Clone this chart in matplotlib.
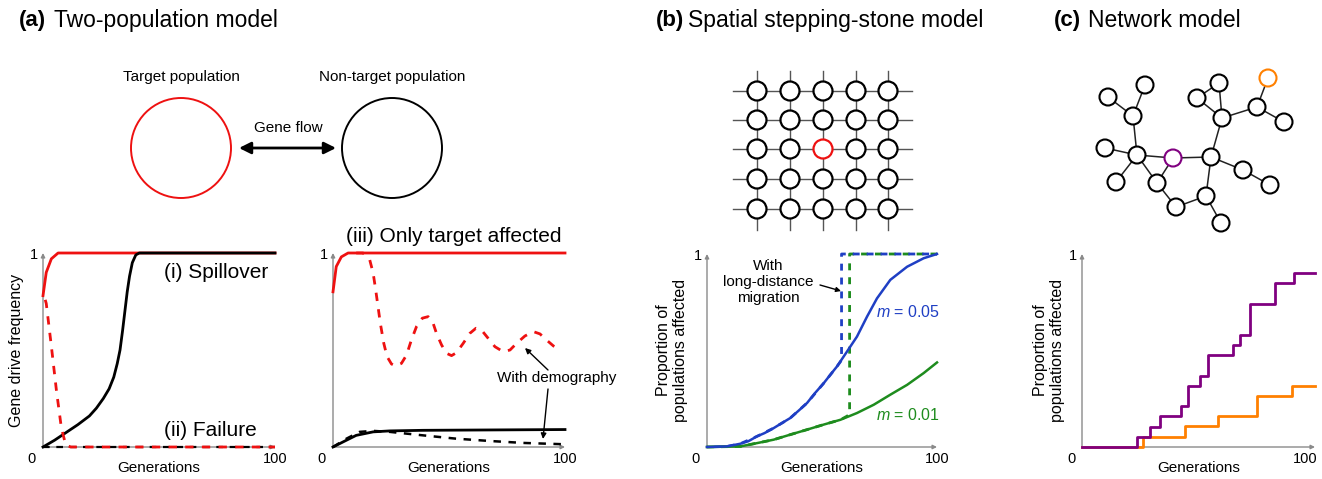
import numpy as np
import matplotlib
matplotlib.use('Agg')
import matplotlib.pyplot as plt
from matplotlib.patches import Circle

plt.rcParams['font.family'] = ['Liberation Sans', 'DejaVu Sans']
plt.rcParams['mathtext.fontset'] = 'custom'
plt.rcParams['mathtext.it'] = 'Liberation Sans:italic'
plt.rcParams['mathtext.rm'] = 'Liberation Sans'

W, H = 1322, 479

# ---- data ----
# (i) spillover / (ii) failure
spill_red_x = [0, 1.4, 3.6, 6.5, 100]
spill_red_y = [0.78, 0.9, 0.97, 1.0, 1.0]
spill_black_x = [0, 5, 10, 15, 20, 23, 26, 28.5, 30.5, 32, 33.2, 34.3, 35.3, 36.3, 37.3,
                 38.5, 40, 41.5, 100]
spill_black_y = [0, 0.035, 0.075, 0.115, 0.16, 0.2, 0.25, 0.3, 0.36, 0.43, 0.5, 0.6, 0.7,
                 0.8, 0.88, 0.95, 0.99, 1.0, 1.0]
fail_red_x = [0, 1.4, 3.6, 5.8, 7.9, 9.8, 12, 100]
fail_red_y = [0.8, 0.74, 0.52, 0.29, 0.1, 0.01, 0, 0]
fail_black_x = [0, 100]
fail_black_y = [0, 0]

# (iii) only target affected
only_red_x = [0, 1.4, 3.6, 6.5, 100]
only_red_y = [0.80, 0.93, 0.98, 1.0, 1.0]
demo_red_x = [10, 13, 15.8, 17.3, 18.4, 19.4, 20.4, 21.9, 23.3, 25.2, 27, 29.5, 31.7, 33.8,
              36, 38.5, 41, 42.9, 44.6, 46.8, 48.9, 51.1, 53.2, 56.1, 59, 61.6, 64, 66.9,
              69.8, 73.4, 76.3, 79.1, 82.7, 86.3, 89.2, 92, 95, 97.8]
demo_red_y = [1.0, 1.0, 0.966, 0.897, 0.81, 0.724, 0.638, 0.534, 0.466, 0.428, 0.417, 0.431,
              0.474, 0.552, 0.621, 0.664, 0.672, 0.647, 0.586, 0.526, 0.483, 0.471, 0.486,
              0.534, 0.586, 0.612, 0.603, 0.56, 0.517, 0.491, 0.5, 0.534, 0.572, 0.595,
              0.583, 0.552, 0.521, 0.503]
only_black_x = [0, 4.3, 10, 17.3, 24.5, 38.8, 100]
only_black_y = [0, 0.026, 0.06, 0.078, 0.083, 0.086, 0.09]
demo_black_x = [0, 5.8, 11.5, 17.3, 24.5, 38.8, 53, 67.6, 82, 100]
demo_black_y = [0, 0.043, 0.078, 0.083, 0.078, 0.06, 0.043, 0.031, 0.021, 0.014]

# (b) stepping-stone
m05_x = [0, 8.7, 14.5, 18, 21.7, 25, 29, 32, 36.2, 40, 43.5, 47, 50.7, 54, 56.5, 60.9,
         65.2, 69.6, 73.9, 79.7, 87, 94.2, 100]
m05_y = [0, 0.003, 0.017, 0.03, 0.055, 0.072, 0.098, 0.12, 0.15, 0.19, 0.228, 0.28, 0.33,
         0.38, 0.417, 0.495, 0.572, 0.676, 0.77, 0.866, 0.934, 0.978, 1.0]
m01_x = [0, 14.5, 21.7, 29, 36.2, 43.5, 50.7, 58, 65.2, 72.5, 79.7, 87, 94.2, 100]
m01_y = [0, 0.003, 0.02, 0.038, 0.064, 0.09, 0.116, 0.141, 0.176, 0.219, 0.271, 0.322, 0.383, 0.438]
ld05_x = [0, 8.7, 14.5, 21.7, 29, 36.2, 43.5, 50.7, 56.5, 58.5, 58.5, 100]
ld05_y = [0, 0.003, 0.017, 0.055, 0.098, 0.15, 0.228, 0.33, 0.417, 0.45, 1.0, 1.0]
ld01_x = [0, 14.5, 21.7, 29, 36.2, 43.5, 50.7, 58, 60.9, 62, 62, 100]
ld01_y = [0, 0.003, 0.02, 0.038, 0.064, 0.09, 0.116, 0.141, 0.16, 0.17, 1.0, 1.0]

# (c) network
purple_x = [0, 23.4, 29.1, 33.4, 42.7, 45.6, 50.6, 54.2, 64.9, 67.8, 72.1, 82.8, 91, 100]
purple_y = [0, 0.052, 0.104, 0.159, 0.213, 0.317, 0.369, 0.476, 0.528, 0.58, 0.74, 0.848, 0.9, 0.9]
orange_x = [0, 26.2, 44.1, 58.5, 74.9, 90, 100]
orange_y = [0, 0.052, 0.107, 0.161, 0.265, 0.317, 0.317]

# diagram layout (pixel coords)
grid_cols = [757, 790, 823, 856, 888]
grid_rows = [91, 120, 149, 179, 209]
net_nodes = [(1108, 97), (1145, 85), (1133, 116), (1105, 148), (1137, 155), (1116, 182),
             (1173, 158), (1157, 183), (1176, 207), (1206, 196), (1221, 223), (1211, 157),
             (1243, 170), (1270, 185), (1222, 118), (1197, 98), (1219, 83), (1257, 107),
             (1268, 78), (1284, 122)]
net_edges = [(0, 2), (1, 2), (2, 4), (3, 4), (5, 4), (4, 6), (4, 7), (6, 7), (7, 8), (8, 9),
             (9, 10), (9, 11), (6, 11), (11, 12), (12, 13), (11, 14), (14, 15), (14, 16),
             (15, 16), (14, 17), (17, 18), (17, 19)]

RED = '#ee1111'
BLUE = '#1f3fc4'
GREEN = '#1e8c1e'
PURPLE = '#800080'
ORANGE = '#ff8000'
GRAY = '#8a8a8a'

fig = plt.figure(figsize=(W / 100, H / 100), dpi=100)
bg = fig.add_axes([0, 0, 1, 1])
bg.set_xlim(0, W)
bg.set_ylim(H, 0)
bg.axis('off')


def make_ax(box, ylabel, ylab_x, right_lab=None):
    x0, y0, x1, y1 = box
    ax = fig.add_axes([x0 / W, 1 - y1 / H, (x1 - x0) / W, (y1 - y0) / H])
    ax.set_xlim(0, 100)
    ax.set_ylim(0, 1)
    ax.axis('off')
    ax.patch.set_alpha(0)
    for end in [(1, 0), (0, 1)]:
        ax.annotate('', xy=end, xytext=(0, 0), xycoords='axes fraction',
                    arrowprops=dict(arrowstyle='-|>', color=GRAY, lw=1,
                                    mutation_scale=6, shrinkA=0, shrinkB=0),
                    zorder=1)
    bg.text(x0 - 11, y1 + 12, '0', ha='center', va='center', fontsize=10.5)
    bg.text(x0 - 9, y0 + 2, '1', ha='center', va='center', fontsize=10.5)
    bg.text(right_lab if right_lab else x1, y1 + 12, '100', ha='center', va='center',
            fontsize=10.5)
    bg.text((x0 + x1) / 2, 468, 'Generations', ha='center', va='center', fontsize=11)
    bg.text(ylab_x, (y0 + y1) / 2, ylabel, ha='center', va='center', fontsize=11.5,
            rotation=90, linespacing=1.1)
    return ax


# ---- titles ----
for x, off, lab, txt in [(19, 35, '(a)', 'Two-population model'),
                         (656, 32, '(b)', 'Spatial stepping-stone model'),
                         (1054, 34, '(c)', 'Network model')]:
    bg.text(x, 20, lab, fontsize=16, fontweight='bold', va='center', ha='left')
    bg.text(x + off, 20, txt, fontsize=16.5, va='center', ha='left')

# ---- (a) diagram ----
bg.text(181, 77, 'Target population', ha='center', va='center', fontsize=11)
bg.text(392, 77, 'Non-target population', ha='center', va='center', fontsize=11)
bg.add_patch(Circle((181, 148), 50, fill=False, ec=RED, lw=1.4))
bg.add_patch(Circle((392, 148), 50, fill=False, ec='black', lw=1.4))
bg.text(288, 128, 'Gene flow', ha='center', va='center', fontsize=11)
bg.annotate('', xy=(336, 148), xytext=(239, 148),
            arrowprops=dict(arrowstyle='<|-|>,head_length=0.7,head_width=0.35',
                            lw=2, color='black', shrinkA=0, shrinkB=0))

# ---- (b) grid ----
for r in grid_rows:
    bg.plot([733, 912], [r, r], color='#555555', lw=1, zorder=2)
for c in grid_cols:
    bg.plot([c, c], [71, 230], color='#555555', lw=1, zorder=2)
for r in grid_rows:
    for c in grid_cols:
        col = RED if (r, c) == (149, 823) else 'black'
        bg.add_patch(Circle((c, r), 9.5, fc='white', ec=col, lw=1.6, zorder=3))

# ---- (c) network ----
for a, b in net_edges:
    bg.plot([net_nodes[a][0], net_nodes[b][0]], [net_nodes[a][1], net_nodes[b][1]],
            color='#222222', lw=1.1, zorder=2)
for i, (x, y) in enumerate(net_nodes):
    col = PURPLE if i == 6 else (ORANGE if i == 18 else 'black')
    bg.add_patch(Circle((x, y), 8.5, fc='white', ec=col, lw=1.5, zorder=3))

# ---- (i)/(ii) ----
ax1 = make_ax((43, 253, 275, 447), 'Gene drive frequency', 17)
ax1.plot(spill_red_x, spill_red_y, color=RED, lw=2, clip_on=False)
ax1.plot(spill_black_x, spill_black_y, color='black', lw=2, clip_on=False)
ax1.plot(fail_black_x, fail_black_y, color='black', lw=1.6, ls=(0, (3, 3)), clip_on=False)
ax1.plot(fail_red_x, fail_red_y, color=RED, lw=2, ls=(3, (3, 3)), clip_on=False)
bg.text(216, 273, '(i) Spillover', fontsize=15, ha='center', va='center')
bg.text(210, 430, '(ii) Failure', fontsize=15, ha='center', va='center')

# ---- (iii) ----
ax2 = make_ax((333, 253, 565, 447), '', 0)
ax2.plot(only_red_x, only_red_y, color=RED, lw=2, clip_on=False)
ax2.plot(demo_red_x, demo_red_y, color=RED, lw=2, ls=(0, (3, 3)), clip_on=False)
ax2.plot(only_black_x, only_black_y, color='black', lw=2, clip_on=False)
ax2.plot(demo_black_x, demo_black_y, color='black', lw=1.8, ls=(0, (3, 3)), clip_on=False)
bg.text(454, 236, '(iii) Only target affected', fontsize=15, ha='center', va='center')
bg.text(557, 378, 'With demography', fontsize=11, ha='center', va='center')
bg.annotate('', xy=(525, 348), xytext=(548, 370),
            arrowprops=dict(arrowstyle='-|>', lw=1, color='black', mutation_scale=8,
                            shrinkA=0, shrinkB=0))
bg.annotate('', xy=(543, 439), xytext=(548, 389),
            arrowprops=dict(arrowstyle='-|>', lw=1, color='black', mutation_scale=8,
                            shrinkA=0, shrinkB=0))

# ---- (b) plot ----
ax3 = make_ax((707, 254, 937, 447), 'Proportion of\npopulations affected', 672)
ax3.plot(ld01_x, ld01_y, color=GREEN, lw=2, ls=(0, (2.5, 2.5)), clip_on=False)
ax3.plot(ld05_x, ld05_y, color=BLUE, lw=2, ls=(2.5, (2.5, 2.5)), clip_on=False)
ax3.plot(m01_x, m01_y, color=GREEN, lw=1.8, clip_on=False)
ax3.plot(m05_x, m05_y, color=BLUE, lw=1.8, clip_on=False)
bg.text(908, 312, '$m$ = 0.05', color=BLUE, fontsize=11.5, ha='center', va='center')
bg.text(908, 415, '$m$ = 0.01', color=GREEN, fontsize=11.5, ha='center', va='center')
bg.text(768, 282, 'With\nlong-distance\nmigration', fontsize=11, ha='center', va='center',
        linespacing=1.15)
bg.annotate('', xy=(841, 291), xytext=(820, 285),
            arrowprops=dict(arrowstyle='-|>', lw=1, color='black', mutation_scale=7,
                            shrinkA=0, shrinkB=0))

# ---- (c) plot ----
ax4 = make_ax((1082, 254, 1315, 447), 'Proportion of\npopulations affected', 1049,
              right_lab=1305)
ax4.plot(orange_x, orange_y, color=ORANGE, lw=2, drawstyle='steps-post', clip_on=False)
ax4.plot(purple_x, purple_y, color=PURPLE, lw=2, drawstyle='steps-post', clip_on=False)

fig.savefig('out.png', dpi=100)
